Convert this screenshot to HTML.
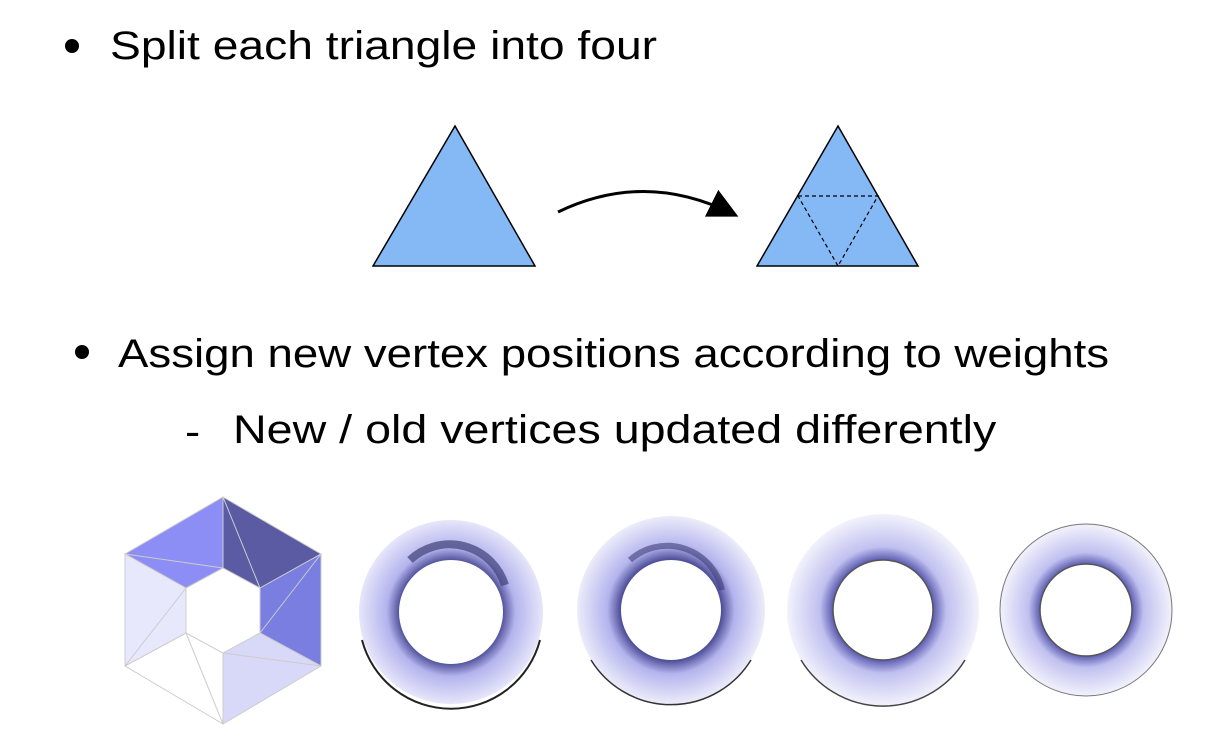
<!DOCTYPE html>
<html><head><meta charset="utf-8"><style>
body{margin:0;width:1230px;height:740px;background:#fff;overflow:hidden;font-family:"Liberation Sans",sans-serif;color:#000}
.t{position:absolute;font-size:40px;white-space:nowrap;line-height:1;transform-origin:0 0;transform:scaleX(1.14)}
.b{position:absolute;width:14px;height:14px;border-radius:50%;background:#000}
</style></head><body>
<div class="b" style="left:65px;top:39px"></div>
<div class="t" style="left:110px;top:26px;transform:scaleX(1.155)">Split each triangle into four</div>
<div class="b" style="left:75px;top:345px"></div>
<div class="t" style="left:118px;top:334px">Assign new vertex positions according to weights</div>
<div class="t" style="left:185px;top:412px">-</div>
<div class="t" style="left:233px;top:410px;transform:scaleX(1.165)">New / old vertices updated differently</div>
<svg width="1230" height="740" style="position:absolute;left:0;top:0">
<defs>
<radialGradient id="g2" gradientUnits="userSpaceOnUse" cx="451" cy="612" r="92"><stop offset="0.56" stop-color="#50509a"/><stop offset="0.7" stop-color="#b4b4ee"/><stop offset="1" stop-color="#e6e6fa"/></radialGradient>
<radialGradient id="g3" gradientUnits="userSpaceOnUse" cx="671" cy="610" r="94"><stop offset="0.54" stop-color="#50509a"/><stop offset="0.68" stop-color="#b4b4ee"/><stop offset="1" stop-color="#ececfa"/></radialGradient>
<radialGradient id="g4" gradientUnits="userSpaceOnUse" cx="883" cy="610" r="96"><stop offset="0.52" stop-color="#5a5ab0"/><stop offset="0.66" stop-color="#c0c0f0"/><stop offset="1" stop-color="#f2f2fc"/></radialGradient>
<radialGradient id="g5" gradientUnits="userSpaceOnUse" cx="1086" cy="610" r="86"><stop offset="0.53" stop-color="#5a5ab0"/><stop offset="0.67" stop-color="#c0c0f0"/><stop offset="1" stop-color="#f2f2fc"/></radialGradient>
<marker id="ah" markerWidth="10" markerHeight="10" refX="8" refY="5" orient="auto"><path d="M0,0 L10,5 L0,10 z" fill="#000"/></marker>
</defs>
<polygon points="373,266 455,126 535,266" fill="#84b9f5" stroke="#000" stroke-width="1.5"/>
<path d="M558,212 Q645,170 733,214" fill="none" stroke="#000" stroke-width="3" marker-end="url(#ah)"/>
<polygon points="757,266 838,126 918,266" fill="#84b9f5" stroke="#000" stroke-width="1.5"/>
<polygon points="798,196 878,196 838,266" fill="none" stroke="#000" stroke-width="1.2" stroke-dasharray="4,3"/>
<g stroke="#ccc" stroke-width="1">
<polygon points="125,554 223,497 223,568 186,588" fill="#8c8ef5"/>
<polygon points="223,497 321,554 260,588 223,568" fill="#5a5ba3"/>
<polygon points="321,554 321,666 260,633 260,588" fill="#7a7ee0"/>
<polygon points="321,666 223,724 223,653 260,633" fill="#d8d9f8"/>
<polygon points="223,724 125,666 186,633 223,653" fill="#ffffff"/>
<polygon points="125,666 125,554 186,588 186,633" fill="#e8e8fc"/>
<line x1="125" y1="666" x2="186" y2="588"/><line x1="223" y1="724" x2="186" y2="633"/>
<line x1="321" y1="666" x2="223" y2="653"/><line x1="321" y1="554" x2="260" y2="633"/>
<line x1="223" y1="497" x2="260" y2="588"/><line x1="125" y1="554" x2="223" y2="568"/>
</g>
<g>
<circle cx="451" cy="612" r="72" fill="none" stroke="url(#g2)" stroke-width="40"/>
<path d="M410,560 A58,58 0 0 1 505,585" fill="none" stroke="#3e3e78" stroke-width="8" opacity="0.7"/>
<path d="M362,640 A92,92 0 0 0 540,640" fill="none" stroke="#222" stroke-width="2"/>
</g>
<g>
<circle cx="671" cy="610" r="72" fill="none" stroke="url(#g3)" stroke-width="44"/>
<path d="M630,560 A56,56 0 0 1 722,590" fill="none" stroke="#3e3e78" stroke-width="6" opacity="0.6"/>
<path d="M591,660 A94,94 0 0 0 751,660" fill="none" stroke="#333" stroke-width="1.5"/>
</g>
<g>
<circle cx="883" cy="610" r="73" fill="none" stroke="url(#g4)" stroke-width="46"/>
<circle cx="883" cy="610" r="50" fill="none" stroke="#555" stroke-width="1.5"/>
<path d="M801,660 A96,96 0 0 0 965,660" fill="none" stroke="#444" stroke-width="1.5"/>
</g>
<g>
<circle cx="1086" cy="610" r="66" fill="none" stroke="url(#g5)" stroke-width="40"/>
<circle cx="1086" cy="610" r="46" fill="none" stroke="#555" stroke-width="1.5"/>
<circle cx="1086" cy="610" r="86" fill="none" stroke="#777" stroke-width="1"/>
</g>
</svg>
</body></html>
